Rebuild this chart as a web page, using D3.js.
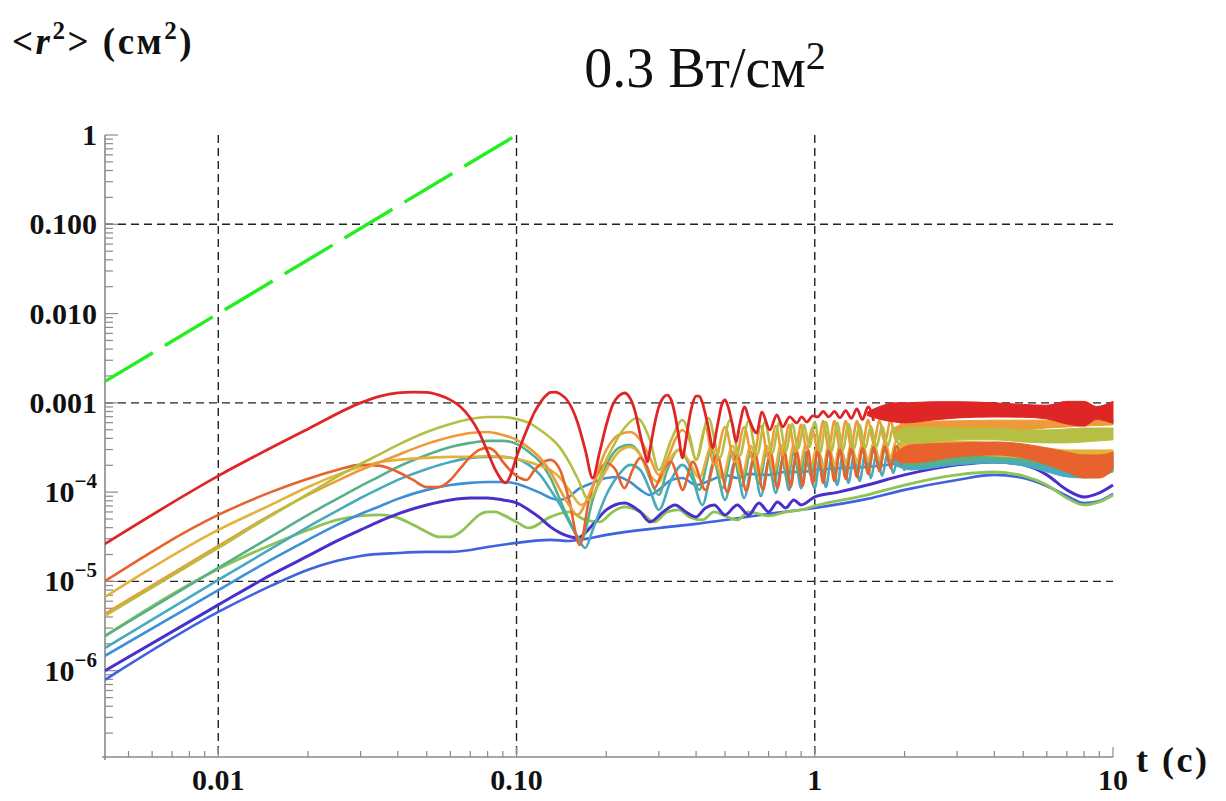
<!DOCTYPE html>
<html><head><meta charset="utf-8">
<script src="https://cdn.jsdelivr.net/npm/d3@7"></script>
<style>body{margin:0;background:#fff} svg{display:block}</style>
</head><body>
<svg id="chart" width="1226" height="801"></svg>
<script>
// ---------- data (t in s, <r^2> in cm^2) ----------
const xTickVals = [0.01, 0.1, 1, 10];
const xTickText = ["0.01", "0.10", "1", "10"];
const yTickVals = [1, 0.1, 0.01, 0.001, 1e-4, 1e-5, 1e-6];
const yTickText = ["1", "0.100", "0.010", "0.001", "10|−4", "10|−5", "10|−6"];
const xGridVals = [0.01, 0.1, 1];
const yGridVals = [0.1, 0.001, 1e-5];

const greenRef = [[0.00417, 1.74e-3], [0.097, 0.94]];

const redLine = [[0.00417,2.63e-5],[0.01,1.52e-4],[0.02,5.1e-4],[0.03,1.0e-3],[0.035,1.19e-3],[0.04,1.29e-3],[0.045,1.32e-3],[0.05,1.31e-3],[0.055,1.22e-3],[0.06,1.08e-3],[0.065,9.0e-4],[0.07,6.77e-4],[0.075,4.6e-4],[0.08,2.82e-4],[0.085,1.77e-4],[0.092,1.27e-4],[0.095,1.48e-4],[0.1,2.48e-4],[0.105,3.85e-4],[0.11,5.66e-4],[0.115,7.91e-4],[0.12,1.0e-3],[0.125,1.19e-3],[0.13,1.31e-3],[0.135,1.32e-3],[0.14,1.26e-3],[0.15,1.0e-3],[0.16,6.11e-4],[0.17,2.97e-4],[0.18,1.44e-4],[0.19,2.82e-4],[0.2,5.66e-4],[0.21,9.48e-4],[0.22,1.19e-3],[0.23,1.29e-3],[0.24,1.135e-3],[0.25,7.91e-4],[0.26,4.37e-4],[0.27,2.61e-4],[0.275,2.18e-4],[0.28,2.97e-4],[0.29,5.66e-4],[0.3,9.0e-4],[0.31,1.135e-3],[0.32,1.22e-3],[0.33,1.08e-3],[0.34,7.33e-4],[0.35,4.15e-4],[0.36,2.42e-4],[0.37,3.85e-4],[0.38,6.77e-4],[0.39,1.0e-3],[0.4,1.19e-3],[0.41,1.19e-3],[0.42,1.0e-3],[0.44,5.23e-4],[0.455,3.13e-4],[0.47,5.23e-4],[0.49,1.0e-3],[0.5,1.08e-3],[0.51,9.48e-4],[0.53,5.66e-4],[0.545,3.65e-4],[0.56,5.66e-4],[0.582,9.0e-4],[0.6,6.77e-4],[0.639,4.6e-4],[0.664,7.91e-4],[0.707,4.97e-4],[0.746,7.33e-4],[0.781,5.37e-4],[0.824,6.95e-4],[0.87,5.96e-4],[0.904,6.95e-4],[0.94,6.11e-4],[0.985,7.14e-4],[1.022,6.95e-4],[1.067,8.0e-4],[1.114,6.95e-4],[1.164,8.0e-4],[1.215,6.8e-4],[1.27,8.2e-4],[1.325,6.7e-4],[1.384,8.54e-4],[1.445,6.5e-4],[1.51,9.0e-4],[1.576,6.27e-4]];
const redBand = [[1.5,7.9e-4,7.2e-4],[1.7,9.4e-4,6.4e-4],[1.85,1.0e-3,6.11e-4],[2,1.0e-3,5.96e-4],[2.5,1.03e-3,6.43e-4],[3,1.03e-3,6.77e-4],[4,1.0e-3,6.95e-4],[5,9.6e-4,6.9e-4],[6,9.4e-4,6.6e-4],[7,1.04e-3,5.8e-4],[8,1.04e-3,5.5e-4],[8.8,9.1e-4,6.5e-4],[10,1.04e-3,5.9e-4]];

const orangeRedLine = [[0.00417,1.01e-5],[0.01,5.56e-5],[0.015,1.0e-4],[0.02,1.41e-4],[0.025,1.77e-4],[0.03,2.02e-4],[0.035,1.97e-4],[0.04,1.68e-4],[0.045,1.37e-4],[0.05,1.14e-4],[0.055,1.14e-4],[0.06,1.37e-4],[0.065,1.87e-4],[0.07,2.48e-4],[0.075,2.97e-4],[0.08,3.13e-4],[0.085,2.82e-4],[0.09,2.18e-4],[0.095,1.77e-4],[0.1,1.52e-4],[0.108,1.37e-4],[0.115,1.77e-4],[0.125,2.24e-4],[0.13,2.3e-4],[0.14,1.77e-4],[0.15,8.18e-5],[0.163,2.56e-5],[0.175,8.18e-5],[0.19,1.77e-4],[0.2,2.12e-4],[0.215,1.77e-4],[0.23,1.11e-4],[0.245,1.77e-4],[0.26,2.42e-4],[0.275,1.87e-4],[0.29,1.11e-4],[0.31,1.77e-4],[0.33,2.18e-4],[0.345,1.56e-4],[0.36,1.06e-4],[0.39,2.18e-4],[0.43,1.06e-4],[0.47,2.61e-4],[0.51,1.0e-4],[0.55,2.61e-4],[0.59,1.03e-4],[0.63,2.75e-4],[0.67,1.06e-4],[0.71,2.82e-4],[0.75,1.11e-4],[0.79,2.89e-4],[0.83,1.14e-4],[0.87,2.89e-4],[0.91,1.17e-4],[0.95,2.97e-4],[0.985,1.24e-4],[1.022,2.97e-4],[1.067,1.27e-4],[1.114,3.05e-4],[1.164,1.335e-4],[1.215,3.05e-4],[1.27,1.41e-4],[1.325,3.13e-4],[1.384,1.48e-4],[1.445,3.13e-4],[1.51,1.6e-4],[1.576,3.21e-4],[1.646,1.72e-4],[1.719,3.29e-4],[1.795,1.87e-4],[1.875,3.29e-4],[1.957,2.02e-4]];
const orangeRedBand = [[1.85,2.7e-4,2.3e-4],[2.1,3.38e-4,2.12e-4],[3,3.56e-4,2.48e-4],[4,3.65e-4,2.61e-4],[5,3.47e-4,2.42e-4],[6,3.13e-4,2.02e-4],[7,2.82e-4,1.68e-4],[8,2.61e-4,1.44e-4],[9,2.61e-4,1.44e-4],[10,2.82e-4,1.77e-4]];

const goldLine = [[0.00417,6.7e-6],[0.01,3.77e-5],[0.015,7.19e-5],[0.02,1.14e-4],[0.025,1.56e-4],[0.03,1.92e-4],[0.035,2.18e-4],[0.04,2.3e-4],[0.05,2.42e-4],[0.06,2.48e-4],[0.07,2.48e-4],[0.08,2.54e-4],[0.09,2.48e-4],[0.1,2.36e-4],[0.11,2.18e-4],[0.12,1.97e-4],[0.13,1.77e-4],[0.14,1.44e-4],[0.15,1.06e-4],[0.165,7.19e-5],[0.18,9.3e-5],[0.2,1.77e-4],[0.22,2.82e-4],[0.24,3.21e-4],[0.26,2.61e-4],[0.28,1.56e-4],[0.3,1.3e-4],[0.32,2.02e-4],[0.35,2.97e-4],[0.38,2.18e-4],[0.41,1.44e-4],[0.45,3.21e-4],[0.49,1.44e-4],[0.53,3.29e-4],[0.57,1.52e-4],[0.61,3.29e-4],[0.65,1.6e-4],[0.69,3.29e-4],[0.73,1.68e-4],[0.77,3.38e-4],[0.81,1.77e-4],[0.85,3.38e-4],[0.89,1.87e-4],[0.93,3.38e-4],[0.97,1.97e-4],[1.022,3.38e-4],[1.067,1.87e-4],[1.114,3.47e-4],[1.164,1.97e-4],[1.215,3.47e-4],[1.27,2.02e-4],[1.325,3.56e-4],[1.384,2.12e-4],[1.445,3.56e-4],[1.51,2.24e-4],[1.576,3.65e-4],[1.646,2.3e-4],[1.719,3.75e-4],[1.795,2.42e-4],[1.875,3.75e-4],[1.957,2.48e-4]];
const goldBand = [[1.85,3.2e-4,2.9e-4],[2.1,3.85e-4,2.61e-4],[3,3.75e-4,2.61e-4],[4,3.56e-4,2.54e-4],[5,3.29e-4,2.42e-4],[6,3.13e-4,2.3e-4],[7,2.97e-4,2.3e-4],[8,2.97e-4,2.36e-4],[10,2.97e-4,2.48e-4]];

const oliveLine = [[0.00417,4.11e-6],[0.01,2.37e-5],[0.015,5.42e-5],[0.02,9.55e-5],[0.025,1.48e-4],[0.03,2.07e-4],[0.035,2.68e-4],[0.04,3.38e-4],[0.05,4.72e-4],[0.06,5.8e-4],[0.07,6.6e-4],[0.08,6.95e-4],[0.09,6.95e-4],[0.1,6.6e-4],[0.11,5.96e-4],[0.12,4.97e-4],[0.13,4.05e-4],[0.14,3.13e-4],[0.15,2.18e-4],[0.16,1.44e-4],[0.175,8.18e-5],[0.2,2.3e-4],[0.23,5.23e-4],[0.253,6.77e-4],[0.28,3.85e-4],[0.3,1.77e-4],[0.33,3.85e-4],[0.36,6.43e-4],[0.38,4.37e-4],[0.4,2.3e-4],[0.44,6.77e-4],[0.48,2.42e-4],[0.52,6.43e-4],[0.56,2.54e-4],[0.6,6.27e-4],[0.64,2.61e-4],[0.68,6.11e-4],[0.72,2.75e-4],[0.76,5.96e-4],[0.8,2.89e-4],[0.84,5.8e-4],[0.88,3.05e-4],[0.92,5.66e-4],[0.96,3.21e-4],[1.0,6.11e-4],[1.044,2.82e-4],[1.09,6.11e-4],[1.139,2.89e-4],[1.189,5.96e-4],[1.242,2.97e-4],[1.297,5.8e-4],[1.354,3.05e-4],[1.414,5.66e-4],[1.477,3.13e-4],[1.542,5.51e-4],[1.61,3.21e-4],[1.682,5.51e-4],[1.756,3.29e-4],[1.834,5.37e-4],[1.915,3.38e-4],[2.0,5.37e-4]];
const oliveBand = [[1.85,4.6e-4,4.1e-4],[2.1,5.37e-4,3.56e-4],[3,5.23e-4,3.85e-4],[4,5.23e-4,3.85e-4],[5,4.97e-4,3.65e-4],[6,4.97e-4,3.56e-4],[7,5.1e-4,3.56e-4],[8,5.23e-4,3.65e-4],[10,5.23e-4,3.85e-4]];

const orangeLine = [[0.00417,4.33e-6],[0.01,2.5e-5],[0.015,5.56e-5],[0.02,9.3e-5],[0.025,1.335e-4],[0.03,1.77e-4],[0.035,2.18e-4],[0.04,2.61e-4],[0.05,3.47e-4],[0.06,4.15e-4],[0.07,4.6e-4],[0.08,4.72e-4],[0.09,4.37e-4],[0.1,3.85e-4],[0.11,3.13e-4],[0.12,2.42e-4],[0.13,1.68e-4],[0.14,1.06e-4],[0.15,7.19e-5],[0.16,5.56e-5],[0.175,9.3e-5],[0.2,2.97e-4],[0.22,4.37e-4],[0.24,4.72e-4],[0.26,3.85e-4],[0.28,2.42e-4],[0.3,1.56e-4],[0.32,2.3e-4],[0.34,3.85e-4],[0.36,4.97e-4],[0.38,3.85e-4],[0.4,2.3e-4],[0.43,5.23e-4],[0.46,2.02e-4],[0.5,5.37e-4],[0.54,2.18e-4],[0.58,5.37e-4],[0.62,2.3e-4],[0.66,5.51e-4],[0.7,2.42e-4],[0.74,5.51e-4],[0.78,2.61e-4],[0.82,5.66e-4],[0.86,2.82e-4],[0.9,5.66e-4],[0.94,2.97e-4],[0.98,5.23e-4],[1.022,2.97e-4],[1.067,6.27e-4],[1.114,3.05e-4],[1.164,6.27e-4],[1.215,3.13e-4],[1.27,6.27e-4],[1.325,3.21e-4],[1.384,6.27e-4],[1.445,3.29e-4],[1.51,6.43e-4],[1.576,3.47e-4],[1.646,6.43e-4],[1.719,3.56e-4],[1.795,6.43e-4],[1.875,3.75e-4],[1.957,6.43e-4]];
const orangeBand = [[1.85,5.3e-4,4.8e-4],[2.1,6.11e-4,3.85e-4],[3,6.3e-4,4.37e-4],[4,6.4e-4,4.72e-4],[5,6.4e-4,4.97e-4],[6,6.4e-4,5.23e-4],[7,6.3e-4,5.37e-4],[8,6.3e-4,5.51e-4],[10,6.4e-4,5.66e-4]];

const greenTealLine = [[0.00417,2.45e-6],[0.01,1.42e-5],[0.015,3.15e-5],[0.02,5.56e-5],[0.025,8.4e-5],[0.03,1.17e-4],[0.035,1.52e-4],[0.04,1.92e-4],[0.05,2.61e-4],[0.06,3.21e-4],[0.07,3.56e-4],[0.08,3.75e-4],[0.09,3.75e-4],[0.1,3.47e-4],[0.11,2.82e-4],[0.12,2.18e-4],[0.13,1.44e-4],[0.14,8.18e-5],[0.15,4.88e-5],[0.165,2.92e-5],[0.18,8.18e-5],[0.2,2.02e-4],[0.22,3.13e-4],[0.24,3.38e-4],[0.26,2.61e-4],[0.28,1.44e-4],[0.3,9.3e-5],[0.32,1.77e-4],[0.35,2.97e-4],[0.38,2.02e-4],[0.41,1.06e-4],[0.45,2.97e-4],[0.49,1.11e-4],[0.53,2.82e-4],[0.57,1.17e-4],[0.61,2.82e-4],[0.65,1.24e-4],[0.69,2.82e-4],[0.73,1.3e-4],[0.77,2.82e-4],[0.81,1.37e-4],[0.85,2.82e-4],[0.89,1.44e-4],[0.93,2.82e-4],[0.97,1.52e-4],[1.022,2.82e-4],[1.067,1.44e-4],[1.114,2.82e-4],[1.164,1.52e-4],[1.215,2.89e-4],[1.27,1.6e-4],[1.325,2.89e-4],[1.384,1.68e-4],[1.445,2.97e-4],[1.51,1.77e-4],[1.576,2.97e-4],[1.646,1.87e-4],[1.719,3.05e-4],[1.795,1.97e-4],[1.875,3.05e-4],[1.957,2.02e-4]];
const greenTealBand = [[1.85,2.6e-4,2.3e-4],[2.1,2.97e-4,1.97e-4],[3,3.13e-4,2.18e-4],[4,3.13e-4,2.3e-4],[5,2.97e-4,2.18e-4],[6,2.82e-4,2.02e-4],[7,2.68e-4,1.77e-4],[8,2.61e-4,1.6e-4],[10,2.82e-4,1.87e-4]];

const tealLine = [[0.00417,1.8e-6],[0.01,1.04e-5],[0.015,2.31e-5],[0.02,4.08e-5],[0.025,6.16e-5],[0.03,8.6e-5],[0.035,1.11e-4],[0.04,1.37e-4],[0.05,1.82e-4],[0.06,2.18e-4],[0.07,2.42e-4],[0.08,2.48e-4],[0.09,2.48e-4],[0.1,2.36e-4],[0.11,2.02e-4],[0.12,1.56e-4],[0.13,1.06e-4],[0.14,7.19e-5],[0.15,4.64e-5],[0.16,3.15e-5],[0.17,2.37e-5],[0.18,3.77e-5],[0.2,9.3e-5],[0.22,1.56e-4],[0.24,2.02e-4],[0.26,1.77e-4],[0.28,1.06e-4],[0.3,6.32e-5],[0.33,1.37e-4],[0.36,2.02e-4],[0.39,1.37e-4],[0.42,7.19e-5],[0.46,2.18e-4],[0.5,8.18e-5],[0.54,2.18e-4],[0.58,8.6e-5],[0.62,2.18e-4],[0.66,9.07e-5],[0.7,2.18e-4],[0.74,9.8e-5],[0.78,2.3e-4],[0.82,1.06e-4],[0.86,2.3e-4],[0.9,1.11e-4],[0.94,2.3e-4],[1.0,1.11e-4],[1.044,2.54e-4],[1.09,1.14e-4],[1.139,2.54e-4],[1.189,1.2e-4],[1.242,2.61e-4],[1.297,1.27e-4],[1.354,2.61e-4],[1.414,1.335e-4],[1.477,2.68e-4],[1.542,1.44e-4],[1.61,2.68e-4],[1.682,1.52e-4],[1.756,2.75e-4],[1.834,1.64e-4],[1.915,2.82e-4],[2.0,1.72e-4]];
const tealBand = [[1.85,2.3e-4,2.0e-4],[2.1,2.75e-4,1.77e-4],[3,2.97e-4,2.02e-4],[4,2.97e-4,2.12e-4],[5,2.75e-4,1.97e-4],[6,2.48e-4,1.68e-4],[7,2.3e-4,1.48e-4],[8,2.18e-4,1.44e-4],[10,2.48e-4,1.68e-4]];

const blueLine = [[0.00417,1.47e-6],[0.01,8.0e-6],[0.015,1.74e-5],[0.02,2.92e-5],[0.025,4.3e-5],[0.03,5.7e-5],[0.035,7.0e-5],[0.04,8.4e-5],[0.05,1.06e-4],[0.06,1.2e-4],[0.07,1.27e-4],[0.08,1.3e-4],[0.09,1.3e-4],[0.1,1.24e-4],[0.11,1.11e-4],[0.12,9.8e-5],[0.13,8.6e-5],[0.14,8.18e-5],[0.15,8.83e-5],[0.16,1.06e-4],[0.18,1.27e-4],[0.2,1.44e-4],[0.22,1.48e-4],[0.24,1.3e-4],[0.26,1.06e-4],[0.28,9.3e-5],[0.3,1.06e-4],[0.33,1.37e-4],[0.36,1.44e-4],[0.4,1.2e-4],[0.45,1.37e-4],[0.5,1.56e-4],[0.55,1.44e-4],[0.6,1.6e-4],[0.7,1.56e-4],[0.8,1.68e-4],[0.9,1.68e-4],[1.0,1.77e-4],[1.5,1.92e-4],[2,2.12e-4],[3,2.3e-4],[4,2.42e-4],[5,2.24e-4],[6,1.97e-4],[7,1.72e-4],[8,1.6e-4],[9,1.64e-4],[10,1.87e-4]];

const violetLine = [[0.00417,1.0e-6],[0.01,5.46e-6],[0.015,1.18e-5],[0.02,1.93e-5],[0.025,2.84e-5],[0.03,3.77e-5],[0.035,4.76e-5],[0.04,5.7e-5],[0.05,7.19e-5],[0.06,8.18e-5],[0.07,8.6e-5],[0.08,8.6e-5],[0.09,8.18e-5],[0.1,7.57e-5],[0.11,6.32e-5],[0.12,5.14e-5],[0.13,4.08e-5],[0.14,3.49e-5],[0.16,3.07e-5],[0.18,4.3e-5],[0.2,6.32e-5],[0.23,7.57e-5],[0.26,6.0e-5],[0.28,4.64e-5],[0.31,6.0e-5],[0.34,7.19e-5],[0.37,6.0e-5],[0.4,5.28e-5],[0.43,6.65e-5],[0.46,7.19e-5],[0.5,5.56e-5],[0.55,7.19e-5],[0.6,5.56e-5],[0.65,7.57e-5],[0.7,6.0e-5],[0.75,7.77e-5],[0.8,6.65e-5],[0.85,8.18e-5],[0.9,7.19e-5],[1.0,8.83e-5],[1.2,1.0e-4],[1.5,1.2e-4],[2,1.56e-4],[3,2.02e-4],[4,2.18e-4],[5,2.02e-4],[6,1.56e-4],[7,1.06e-4],[8,8.83e-5],[9,9.8e-5],[10,1.2e-4]];

const lightGreenLine = [[0.00417,2.45e-6],[0.01,1.38e-5],[0.015,2.56e-5],[0.02,3.77e-5],[0.025,4.88e-5],[0.03,5.42e-5],[0.035,5.56e-5],[0.04,5.14e-5],[0.045,4.3e-5],[0.05,3.58e-5],[0.055,3.15e-5],[0.06,3.15e-5],[0.065,3.58e-5],[0.07,4.52e-5],[0.075,5.56e-5],[0.08,6.0e-5],[0.085,6.0e-5],[0.09,5.56e-5],[0.1,4.64e-5],[0.11,3.97e-5],[0.13,5.28e-5],[0.15,6.0e-5],[0.17,4.88e-5],[0.19,4.64e-5],[0.21,6.0e-5],[0.23,6.82e-5],[0.26,6.0e-5],[0.29,4.64e-5],[0.32,6.0e-5],[0.35,6.32e-5],[0.38,5.28e-5],[0.42,4.88e-5],[0.46,6.0e-5],[0.5,5.42e-5],[0.55,4.88e-5],[0.6,6.0e-5],[0.7,5.42e-5],[0.8,6.0e-5],[0.9,6.32e-5],[1.0,7.0e-5],[1.5,9.3e-5],[2,1.2e-4],[3,1.56e-4],[4,1.68e-4],[5,1.52e-4],[6,1.2e-4],[7,8.6e-5],[8,7.19e-5],[9,7.77e-5],[10,9.3e-5]];

const royalBlueLine = [[0.00417,7.9e-7],[0.01,4.55e-6],[0.015,8.9e-6],[0.02,1.35e-5],[0.025,1.7e-5],[0.03,1.93e-5],[0.04,2.08e-5],[0.05,2.14e-5],[0.06,2.14e-5],[0.07,2.25e-5],[0.08,2.43e-5],[0.1,2.7e-5],[0.13,2.92e-5],[0.15,2.84e-5],[0.17,2.99e-5],[0.2,3.32e-5],[0.3,3.97e-5],[0.4,4.41e-5],[0.5,4.88e-5],[0.7,5.7e-5],[1.0,6.65e-5],[1.5,8.4e-5],[2,1.06e-4],[3,1.37e-4],[4,1.56e-4],[5,1.44e-4],[6,1.17e-4],[7,9.07e-5],[8,7.57e-5],[9,7.97e-5],[10,9.55e-5]];

// ---------- layout ----------
const svg = d3.select("#chart");
const X0 = 105, X1 = 1113, Y0 = 757, Y1 = 135;
const x = d3.scaleLog().domain([0.00417, 10]).range([X0, X1]);
const y = d3.scaleLog().domain([1.08e-7, 1]).range([Y0, Y1]);
const serif = "'Liberation Serif','Times New Roman',serif";

svg.append("rect").attr("width", 1226).attr("height", 801).attr("fill", "#fff");

// grid
const grid = svg.append("g").attr("stroke", "#222").attr("stroke-width", 1.4).attr("stroke-dasharray", "8,5");
grid.selectAll("line.gx").data(xGridVals).join("line").attr("x1", d => x(d)).attr("x2", d => x(d)).attr("y1", Y1).attr("y2", Y0);
grid.selectAll("line.gy").data(yGridVals).join("line").attr("y1", d => y(d)).attr("y2", d => y(d)).attr("x1", X0).attr("x2", X1);

// axes lines
const axisCol = "#8a8a8a";
svg.append("line").attr("x1", X0).attr("x2", X0).attr("y1", Y1).attr("y2", Y0 + 3).attr("stroke", axisCol).attr("stroke-width", 1.6);
svg.append("line").attr("x1", X0 - 3).attr("x2", X1).attr("y1", Y0).attr("y2", Y0).attr("stroke", axisCol).attr("stroke-width", 1.6);

// minor / major ticks
const yTicksAll = [];
for (let e = -7; e <= 0; e++) for (let k = 1; k <= 9; k++) { const v = k * Math.pow(10, e); if (v >= 1.08e-7 && v <= 1.0001) yTicksAll.push({ v, major: k === 1 }); }
svg.append("g").selectAll("line").data(yTicksAll).join("line")
  .attr("x1", X0).attr("x2", d => X0 + (d.major ? 13 : 8))
  .attr("y1", d => y(d.v)).attr("y2", d => y(d.v)).attr("stroke", axisCol).attr("stroke-width", 1.2);
const xTicksAll = [];
for (let e = -3; e <= 1; e++) for (let k = 1; k <= 9; k++) { const v = k * Math.pow(10, e); if (v >= 0.00417 && v <= 10.001) xTicksAll.push({ v, major: k === 1 }); }
svg.append("g").selectAll("line").data(xTicksAll).join("line")
  .attr("y1", Y0).attr("y2", d => Y0 - (d.major ? 10 : 6))
  .attr("x1", d => x(d.v)).attr("x2", d => x(d.v)).attr("stroke", axisCol).attr("stroke-width", 1.2);

// tick labels
const yl = svg.append("g").attr("font-family", serif).attr("font-weight", "bold").attr("font-size", 30).attr("fill", "#111").attr("text-anchor", "end");
yTickVals.forEach((v, i) => {
  const s = yTickText[i];
  const t = yl.append("text").attr("x", 97).attr("y", y(v) + 10);
  if (s.includes("|")) {
    const [b, ex] = s.split("|");
    t.append("tspan").text(b);
    t.append("tspan").attr("font-size", 21).attr("dy", -14).text(ex);
  } else t.text(s);
});
const xl = svg.append("g").attr("font-family", serif).attr("font-weight", "bold").attr("font-size", 30).attr("fill", "#111").attr("text-anchor", "middle");
xTickVals.forEach((v, i) => xl.append("text").attr("x", x(v)).attr("y", 790).text(xTickText[i]));

// axis titles
const yt = svg.append("text").attr("x", 12).attr("y", 54).attr("font-family", serif).attr("font-weight", "bold").attr("font-size", 37).attr("letter-spacing", 2.5).attr("fill", "#111");
yt.append("tspan").text("<");
yt.append("tspan").attr("font-style", "italic").text("r");
yt.append("tspan").attr("font-size", 25).attr("dy", -15).text("2");
yt.append("tspan").attr("dy", 15).text("> (см");
yt.append("tspan").attr("font-size", 25).attr("dy", -15).text("2");
yt.append("tspan").attr("dy", 15).text(")");
svg.append("text").attr("x", 1136).attr("y", 772).attr("font-family", serif).attr("font-weight", "bold").attr("font-size", 36).attr("letter-spacing", 2.5).attr("fill", "#111").text("t (с)");
const ti = svg.append("text").attr("x", 705).attr("y", 87).attr("text-anchor", "middle").attr("font-family", serif).attr("font-size", 56).attr("fill", "#111");
ti.append("tspan").text("0.3 Вт/см");
ti.append("tspan").attr("font-size", 40).attr("dy", -18).text("2");

// curves
svg.append("clipPath").attr("id", "clip").append("rect").attr("x", X0).attr("y", Y1 - 5).attr("width", X1 - X0 + 2).attr("height", Y0 - Y1 + 5);
const plot = svg.append("g").attr("clip-path", "url(#clip)");
const line = d3.line().x(d => x(d[0])).y(d => y(d[1])).curve(d3.curveMonotoneX);
const area = d3.area().x(d => x(d[0])).y0(d => y(d[2])).y1(d => y(d[1])).curve(d3.curveMonotoneX);

const seriesList = [
  { line: royalBlueLine, color: "#3e62e0", w: 2.6 },
  { line: lightGreenLine, color: "#8ec456", w: 2.8 },
  { line: violetLine, color: "#4b2fcc", w: 3 },
  { line: blueLine, color: "#3f8fd8", w: 2.6 },
  { line: tealLine, band: tealBand, color: "#48abbd", w: 2.6 },
  { line: greenTealLine, band: greenTealBand, color: "#56b08a", w: 2.6 },
  { line: goldLine, band: goldBand, color: "#e3b23c", w: 2.6 },
  { line: orangeRedLine, band: orangeRedBand, color: "#e7622c", w: 2.6 },
  { line: orangeLine, band: orangeBand, color: "#ee9a38", w: 2.6 },
  { line: oliveLine, band: oliveBand, color: "#b5bf43", w: 2.6 },
  { line: redLine, band: redBand, color: "#df2626", w: 2.8 }
];
seriesList.forEach(s => {
  if (s.band) plot.append("path").attr("d", area(s.band)).attr("fill", s.color).attr("stroke", s.color).attr("stroke-width", 1);
  plot.append("path").attr("d", line(s.line)).attr("fill", "none").attr("stroke", s.color).attr("stroke-width", s.w).attr("stroke-linejoin", "round");
});

// green reference line
plot.append("path").attr("d", d3.line().x(d => x(d[0])).y(d => y(d[1]))(greenRef))
  .attr("stroke", "#22ee22").attr("stroke-width", 3.4).attr("fill", "none").attr("stroke-dasharray", "55.8,14");
</script>
</body></html>
